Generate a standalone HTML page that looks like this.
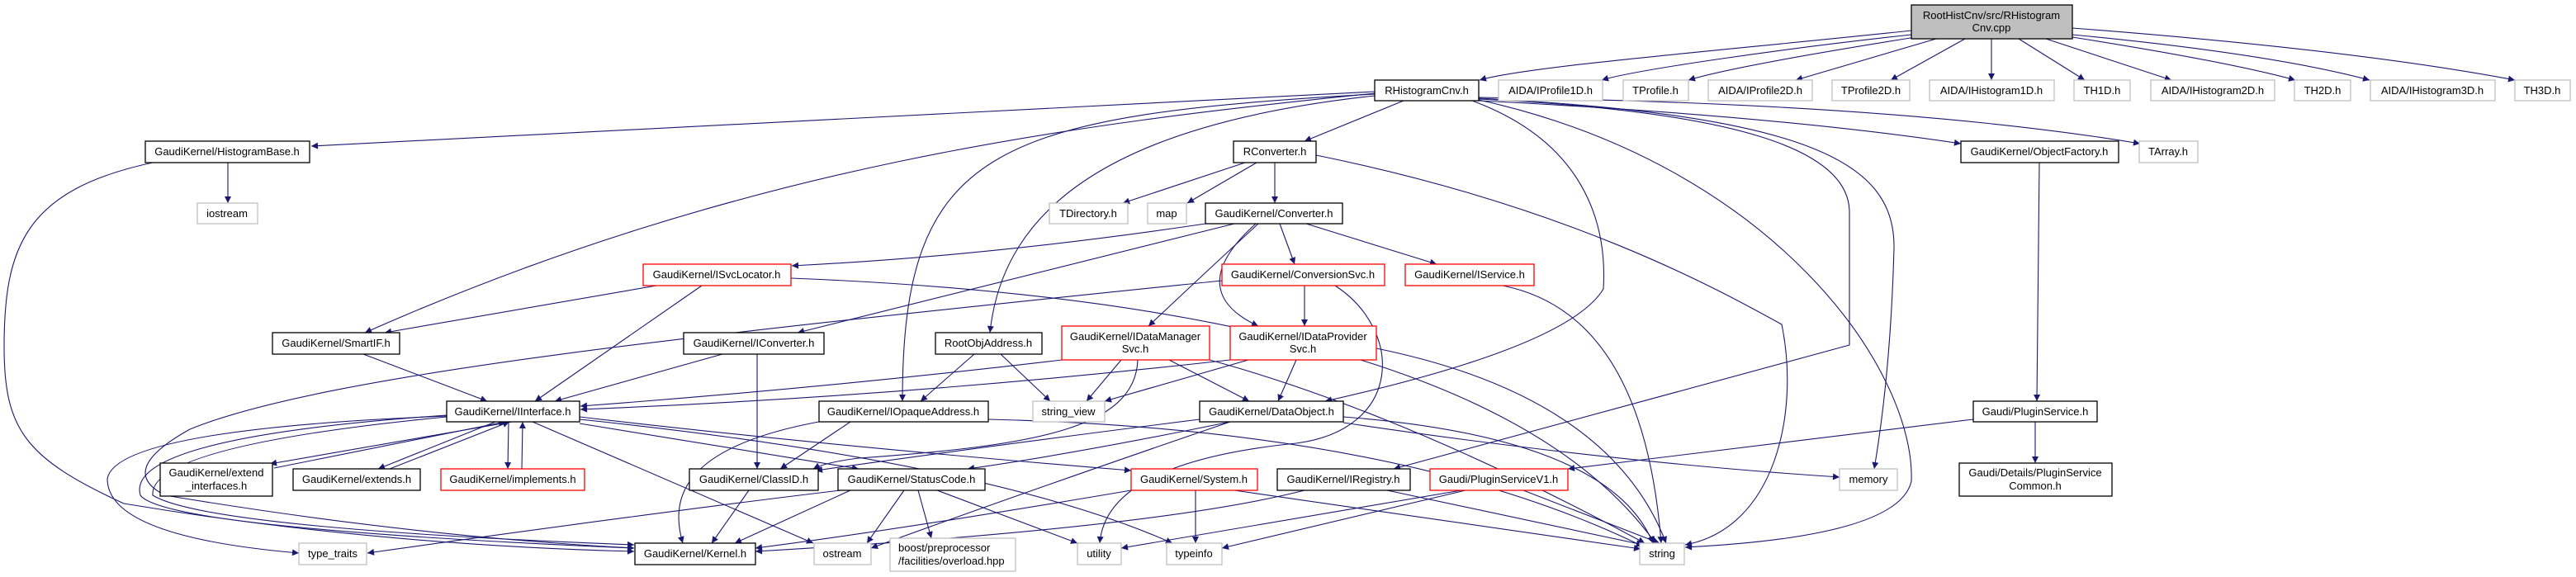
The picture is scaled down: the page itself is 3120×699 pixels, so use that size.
<!DOCTYPE html>
<html><head><meta charset="utf-8"><style>
html,body{margin:0;padding:0;background:#fff;}
svg{display:block;}
text{font-family:"Liberation Sans Narrow","Liberation Sans",sans-serif;font-size:13px;fill:#000;}
.b{fill:#fff;stroke:#000;stroke-width:1.3;}
.r{fill:#fff;stroke:#ff0000;stroke-width:1.3;}
.g{fill:#fff;stroke:#bfbfbf;stroke-width:1.3;}
.e path{fill:none;stroke:#191970;stroke-width:1.1;marker-end:url(#a);}
</style></head><body>
<svg width="3120" height="699" viewBox="0 0 3120 699" xmlns="http://www.w3.org/2000/svg">
<defs><marker id="a" viewBox="0 0 10 10" refX="10" refY="5" markerWidth="11" markerHeight="8" markerUnits="userSpaceOnUse" orient="auto"><path d="M0,0 L10,5 L0,10 z" fill="#191970"/></marker></defs>
<g class="e">
<path d="M2315,37 C2100,60 1850,80 1792,97"/>
<path d="M2315,42 C2150,60 1980,85 1940,97"/>
<path d="M2320,45 Q2100,80 2045,97"/>
<path d="M2345,47 L2175,97"/>
<path d="M2380,47 L2290,97"/>
<path d="M2412,47 L2412,97"/>
<path d="M2445,47 L2525,97"/>
<path d="M2478,47 L2630,97"/>
<path d="M2510,45 Q2700,75 2780,97"/>
<path d="M2510,42 Q2750,65 2870,97"/>
<path d="M2510,34 Q2850,60 3046,97"/>
<path d="M1665,111 L377,177"/>
<path d="M1700,122 L1580,171"/>
<path d="M1791,122 Q2150,140 2375,174"/>
<path d="M1791,118 Q2300,125 2592,174"/>
<path d="M1665,113 C1300,150 900,200 442,403"/>
<path d="M795,346 L466,403"/>
<path d="M850,346 L648,486"/>
<path d="M1665,114 C1200,140 1093,180 1093,486"/>
<path d="M1665,116 C1350,150 1215,250 1199,403"/>
<path d="M1783,122 C1940,180 1945,300 1942,350 Q1900,420 1605,486"/>
<path d="M1791,120 C2100,135 2240,180 2240,257 L2240,418 L1688,568"/>
<path d="M1791,119 C2200,140 2295,200 2294,300 Q2290,450 2270,568"/>
<path d="M1791,121 C2150,200 2320,450 2315,583 Q2300,650 2041,663"/>
<path d="M1594,188 C1900,250 2080,350 2158,393 C2180,500 2150,640 2041,660"/>
<path d="M1508,197 L1360,246"/>
<path d="M1522,197 L1438,246"/>
<path d="M1544,197 L1544,246"/>
<path d="M276,197 L276,246"/>
<path d="M185,197 C30,230 5,300 5,420 C5,520 30,555 150,610 Q450,660 768,668"/>
<path d="M1460,271 Q1200,310 959,322"/>
<path d="M1495,271 L966,403"/>
<path d="M1524,271 Q1460,330 1391,395"/>
<path d="M1521,271 C1455,330 1470,370 1524,395"/>
<path d="M1550,271 L1568,320"/>
<path d="M1582,271 L1740,320"/>
<path d="M958,337 Q1800,370 2005,658"/>
<path d="M1820,346 Q1990,380 2012,658"/>
<path d="M1580,346 L1580,395"/>
<path d="M1617,346 C1700,400 1700,520 1570,537 Q1340,560 1332,658"/>
<path d="M1480,340 C900,400 400,450 230,520 Q140,570 200,600 Q500,650 768,664"/>
<path d="M875,429 L672,486"/>
<path d="M917,429 L917,568"/>
<path d="M440,429 L590,486"/>
<path d="M1180,429 L1115,486"/>
<path d="M1212,429 L1272,486"/>
<path d="M1286,436 Q1000,470 703,492"/>
<path d="M1490,436 Q1100,480 703,496"/>
<path d="M1358,436 L1316,486"/>
<path d="M1416,436 L1513,486"/>
<path d="M1378,436 C1375,520 1250,540 1040,555 Q1000,560 985,568"/>
<path d="M1465,436 Q1700,500 1992,658"/>
<path d="M1512,436 L1338,486"/>
<path d="M1570,436 L1548,486"/>
<path d="M1667,422 Q1950,480 2018,658"/>
<path d="M620,511 L327,562"/>
<path d="M332,567 L612,511"/>
<path d="M600,511 L458,568"/>
<path d="M472,568 L617,511"/>
<path d="M616,511 L615,568"/>
<path d="M632,568 L633,511"/>
<path d="M541,503 Q150,530 170,600 Q200,640 768,664"/>
<path d="M541,505 Q180,540 185,600 Q250,640 768,660"/>
<path d="M541,504 Q140,520 130,580 Q130,650 362,670"/>
<path d="M645,511 L985,658"/>
<path d="M702,513 L1040,568"/>
<path d="M702,505 Q1000,540 1370,570"/>
<path d="M702,508 Q1200,560 1420,658"/>
<path d="M1030,511 L945,568"/>
<path d="M997,510 C830,540 810,600 827,658"/>
<path d="M1197,508 Q1700,520 1990,662"/>
<path d="M1453,508 Q1200,540 988,570"/>
<path d="M1490,511 Q1300,550 1172,568"/>
<path d="M1627,505 Q1950,530 2002,658"/>
<path d="M1627,512 Q1950,560 2228,578"/>
<path d="M1490,511 Q1230,600 1055,664"/>
<path d="M907,594 L862,658"/>
<path d="M1030,594 L890,658"/>
<path d="M1095,594 L1050,658"/>
<path d="M1112,594 L1128,652"/>
<path d="M1135,594 L1305,658"/>
<path d="M1018,594 Q800,620 445,670"/>
<path d="M1370,594 Q1100,640 915,664"/>
<path d="M1448,594 L1448,658"/>
<path d="M1495,594 L1987,665"/>
<path d="M1580,594 Q1400,640 915,668"/>
<path d="M1680,594 L1990,660"/>
<path d="M1770,594 Q1500,640 1358,664"/>
<path d="M1775,594 L1480,664"/>
<path d="M1845,594 L2010,658"/>
<path d="M2390,508 L1899,568"/>
<path d="M2465,511 L2465,561"/>
<path d="M2470,197 L2467,486"/>
</g>
<g text-anchor="middle">
<rect x="2315" y="6" width="195" height="41" fill="#bfbfbf" stroke="#000" stroke-width="1.3"/>
<text x="2412" y="23">RootHistCnv/src/RHistogram</text><text x="2412" y="38">Cnv.cpp</text>
<rect class="b" x="1665" y="97" width="126" height="25"/><text x="1728" y="114">RHistogramCnv.h</text>
<rect class="g" x="1815" y="97" width="126" height="25"/><text x="1878" y="114">AIDA/IProfile1D.h</text>
<rect class="g" x="1966" y="97" width="79" height="25"/><text x="2005" y="114">TProfile.h</text>
<rect class="g" x="2069" y="97" width="126" height="25"/><text x="2132" y="114">AIDA/IProfile2D.h</text>
<rect class="g" x="2219" y="97" width="94" height="25"/><text x="2266" y="114">TProfile2D.h</text>
<rect class="g" x="2337" y="97" width="151" height="25"/><text x="2412" y="114">AIDA/IHistogram1D.h</text>
<rect class="g" x="2512" y="97" width="68" height="25"/><text x="2546" y="114">TH1D.h</text>
<rect class="g" x="2605" y="97" width="150" height="25"/><text x="2680" y="114">AIDA/IHistogram2D.h</text>
<rect class="g" x="2779" y="97" width="68" height="25"/><text x="2813" y="114">TH2D.h</text>
<rect class="g" x="2871" y="97" width="151" height="25"/><text x="2946" y="114">AIDA/IHistogram3D.h</text>
<rect class="g" x="3046" y="97" width="67" height="25"/><text x="3079" y="114">TH3D.h</text>
<rect class="b" x="176" y="171" width="199" height="26"/><text x="275" y="188">GaudiKernel/HistogramBase.h</text>
<rect class="b" x="1494" y="171" width="100" height="26"/><text x="1544" y="188">RConverter.h</text>
<rect class="b" x="2375" y="171" width="191" height="26"/><text x="2470" y="188">GaudiKernel/ObjectFactory.h</text>
<rect class="g" x="2591" y="171" width="71" height="26"/><text x="2626" y="188">TArray.h</text>
<rect class="g" x="239" y="246" width="73" height="25"/><text x="275" y="263">iostream</text>
<rect class="g" x="1271" y="246" width="95" height="25"/><text x="1318" y="263">TDirectory.h</text>
<rect class="g" x="1390" y="246" width="47" height="25"/><text x="1413" y="263">map</text>
<rect class="b" x="1460" y="246" width="166" height="25"/><text x="1543" y="263">GaudiKernel/Converter.h</text>
<rect class="r" x="779" y="320" width="179" height="26"/><text x="868" y="337">GaudiKernel/ISvcLocator.h</text>
<rect class="r" x="1480" y="320" width="197" height="26"/><text x="1578" y="337">GaudiKernel/ConversionSvc.h</text>
<rect class="r" x="1702" y="320" width="156" height="26"/><text x="1780" y="337">GaudiKernel/IService.h</text>
<rect class="b" x="330" y="403" width="154" height="26"/><text x="407" y="420">GaudiKernel/SmartIF.h</text>
<rect class="b" x="828" y="403" width="170" height="26"/><text x="913" y="420">GaudiKernel/IConverter.h</text>
<rect class="b" x="1133" y="403" width="129" height="26"/><text x="1197" y="420">RootObjAddress.h</text>
<rect class="r" x="1286" y="395" width="179" height="41"/><text x="1375" y="412">GaudiKernel/IDataManager</text><text x="1375" y="427">Svc.h</text>
<rect class="r" x="1490" y="395" width="177" height="41"/><text x="1578" y="412">GaudiKernel/IDataProvider</text><text x="1578" y="427">Svc.h</text>
<rect class="b" x="541" y="486" width="161" height="25"/><text x="621" y="503">GaudiKernel/IInterface.h</text>
<rect class="b" x="992" y="486" width="205" height="25"/><text x="1094" y="503">GaudiKernel/IOpaqueAddress.h</text>
<rect class="g" x="1251" y="486" width="87" height="25"/><text x="1294" y="503">string_view</text>
<rect class="b" x="1453" y="486" width="174" height="25"/><text x="1540" y="503">GaudiKernel/DataObject.h</text>
<rect class="b" x="2390" y="486" width="150" height="25"/><text x="2465" y="503">Gaudi/PluginService.h</text>
<rect class="b" x="194" y="561" width="136" height="40"/><text x="262" y="577">GaudiKernel/extend</text><text x="262" y="593">_interfaces.h</text>
<rect class="b" x="355" y="568" width="154" height="26"/><text x="432" y="585">GaudiKernel/extends.h</text>
<rect class="r" x="534" y="568" width="174" height="26"/><text x="621" y="585">GaudiKernel/implements.h</text>
<rect class="b" x="835" y="568" width="156" height="26"/><text x="913" y="585">GaudiKernel/ClassID.h</text>
<rect class="b" x="1015" y="568" width="178" height="26"/><text x="1104" y="585">GaudiKernel/StatusCode.h</text>
<rect class="r" x="1370" y="568" width="153" height="26"/><text x="1446" y="585">GaudiKernel/System.h</text>
<rect class="b" x="1547" y="568" width="161" height="26"/><text x="1627" y="585">GaudiKernel/IRegistry.h</text>
<rect class="r" x="1732" y="568" width="167" height="26"/><text x="1815" y="585">Gaudi/PluginServiceV1.h</text>
<rect class="g" x="2228" y="568" width="70" height="26"/><text x="2263" y="585">memory</text>
<rect class="b" x="2373" y="561" width="185" height="40"/><text x="2465" y="577">Gaudi/Details/PluginService</text><text x="2465" y="593">Common.h</text>
<rect class="g" x="362" y="658" width="82" height="26"/><text x="403" y="675">type_traits</text>
<rect class="b" x="769" y="658" width="146" height="26"/><text x="842" y="675">GaudiKernel/Kernel.h</text>
<rect class="g" x="986" y="658" width="69" height="26"/><text x="1020" y="675">ostream</text>
<rect class="g" x="1078" y="652" width="152" height="40"/><text x="1088" y="668" text-anchor="start">boost/preprocessor</text><text x="1088" y="684" text-anchor="start">/facilities/overload.hpp</text>
<rect class="g" x="1305" y="658" width="53" height="26"/><text x="1331" y="675">utility</text>
<rect class="g" x="1413" y="658" width="67" height="26"/><text x="1446" y="675">typeinfo</text>
<rect class="g" x="1986" y="658" width="54" height="26"/><text x="2013" y="675">string</text>
</g>
</svg>
</body></html>
